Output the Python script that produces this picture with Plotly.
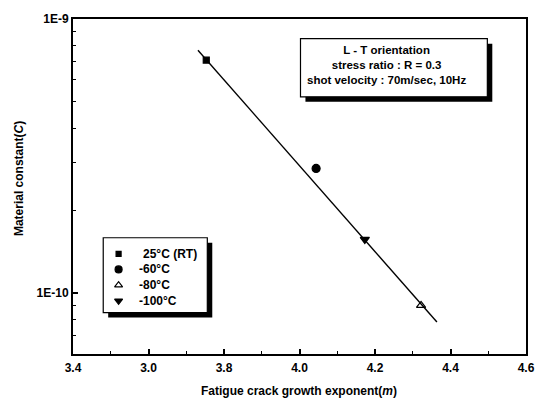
import plotly.graph_objects as go

# ---- data ----
series_names = ["25°C (RT)", "-60°C", "-80°C", "-100°C"]
m_values = [3.753, 4.044, 4.322, 4.173]              # fatigue crack growth exponent m
C_values = [7.08e-10, 2.85e-10, 9.02e-11, 1.57e-10]  # material constant C
marker_symbols = ["square", "circle", "triangle-up-open", "triangle-down"]
marker_sizes = [6, 8, 8, 8]
legend_marker_sizes = [5, 7, 7, 7]

fit_m = [3.731, 4.364]
fit_C = [7.69e-10, 7.85e-11]

x_tickvals = [3.4, 3.6, 3.8, 4.0, 4.2, 4.4, 4.6]
x_ticktext = ["3.4", "3.0", "3.8", "4.0", "4.2", "4.4", "4.6"]
x_minor = [3.5, 3.7, 3.9, 4.1, 4.3, 4.5]
y_tickvals = [1e-10, 1e-9]
y_ticktext = ["1E-10", "1E-9"]
y_minor = [k * 1e-11 for k in [6, 7, 8, 9]] + [k * 1e-10 for k in [2, 3, 4, 5, 6, 7, 8, 9]]

x_title = "Fatigue crack growth exponent(<i>m</i>)"
y_title = "Material constant(<i>C</i>)"
info_lines = ["L - T orientation", "stress ratio : R = 0.3", "shot velocity : 70m/sec, 10Hz"]

FONT = "Liberation Sans, Arial, sans-serif"
W, H = 547, 403
ML, MR, MT, MB = 73, 17, 14, 49
PW, PH = W - ML - MR, H - MT - MB


def px(x):
    return (x - ML) / PW


def py(y):
    return (H - MB - y) / PH


def bold(s):
    return "<b>" + s + "</b>"


fig = go.Figure()

fig.add_trace(go.Scatter(x=fit_m, y=fit_C, mode="lines",
                         line=dict(color="black", width=1.4),
                         showlegend=False, hoverinfo="skip"))

for name, xm, yc, sym, sz in zip(series_names, m_values, C_values, marker_symbols, marker_sizes):
    fig.add_trace(go.Scatter(x=[xm], y=[yc], mode="markers", name=name, showlegend=False,
                             marker=dict(symbol=sym, size=sz, color="black",
                                         line=dict(color="black", width=1.2))))

# ---- legend drawn in an inset axis (pixel units inside the legend box) ----
lx0, lx1, ly0, ly1 = 103.5, 208.5, 236, 312
row_first, row_step = 16.3, 15.9
marker_col, text_col = 15.5, 33.8
rows = [row_first + row_step * i for i in range(len(series_names))]
for name, sym, sz, r in zip(series_names, marker_symbols, legend_marker_sizes, rows):
    fig.add_trace(go.Scatter(x=[marker_col], y=[r], mode="markers", xaxis="x2", yaxis="y2",
                             showlegend=False, hoverinfo="skip",
                             marker=dict(symbol=sym, size=sz, color="black",
                                         line=dict(color="black", width=1.2))))

shapes = []
sh = 5
for (x0, x1, y0, y1) in [(lx0, lx1, ly0, ly1), (302.5, 491, 34, 93)]:
    shapes.append(dict(type="rect", xref="paper", yref="paper",
                       x0=px(x0 + sh), x1=px(x1 + sh), y0=py(y1 + sh), y1=py(y0 + sh),
                       fillcolor="black", line=dict(width=0), layer="below"))
    shapes.append(dict(type="rect", xref="paper", yref="paper",
                       x0=px(x0), x1=px(x1), y0=py(y1), y1=py(y0),
                       fillcolor="white", line=dict(color="black", width=1.2), layer="below"))

annotations = [
    dict(text="<br>".join(bold(s) for s in info_lines), xref="paper", yref="paper",
         x=px(389), y=py(61), xanchor="center", yanchor="middle",
         showarrow=False, align="center",
         font=dict(family=FONT, size=11.5, color="black")),
    dict(text=bold(x_title), xref="paper", yref="paper",
         x=px(301), y=py(392), xanchor="center", yanchor="middle",
         showarrow=False, font=dict(family=FONT, size=12, color="black")),
    dict(text=bold(y_title), xref="paper", yref="paper", textangle=-90,
         x=px(18), y=py(176), xanchor="center", yanchor="middle",
         showarrow=False, font=dict(family=FONT, size=12, color="black")),
]
for name, r in zip(series_names, rows):
    indent = 0 if name.startswith("-") else 4
    annotations.append(dict(text=bold(name), xref="x2", yref="y2", x=text_col, y=r,
                            xanchor="left", yanchor="middle", xshift=indent,
                            showarrow=False, font=dict(family=FONT, size=12, color="black")))

fig.update_layout(
    width=W, height=H,
    margin=dict(l=ML, r=MR, t=MT, b=MB),
    paper_bgcolor="white", plot_bgcolor="rgba(0,0,0,0)",
    font=dict(family=FONT, size=12, color="black"),
    shapes=shapes,
    annotations=annotations,
    showlegend=False,
    xaxis=dict(range=[3.4, 4.6], tickmode="array", tickvals=x_tickvals,
               ticktext=[bold(t) for t in x_ticktext],
               ticks="inside", ticklen=5, tickwidth=1.5, tickcolor="black",
               ticklabelstandoff=2,
               minor=dict(tickvals=x_minor, ticks="inside", ticklen=3, tickwidth=1.2, tickcolor="black"),
               showline=True, linecolor="black", linewidth=2, mirror=True,
               showgrid=False, zeroline=False,
               tickfont=dict(family=FONT, size=12)),
    yaxis=dict(type="log", range=[-10.2218, -9.0], tickmode="array",
               tickvals=y_tickvals, ticktext=[bold(t) for t in y_ticktext],
               ticks="inside", ticklen=5, tickwidth=1.5, tickcolor="black",
               minor=dict(tickvals=y_minor, ticks="inside", ticklen=3, tickwidth=1.2, tickcolor="black"),
               showline=True, linecolor="black", linewidth=2, mirror=True,
               showgrid=False, zeroline=False,
               tickfont=dict(family=FONT, size=12)),
    xaxis2=dict(domain=[px(lx0), px(lx1)], range=[0, lx1 - lx0], visible=False,
                anchor="y2", fixedrange=True),
    yaxis2=dict(domain=[py(ly1), py(ly0)], range=[ly1 - ly0, 0], visible=False,
                anchor="x2", fixedrange=True),
)

fig.write_html("out.html", config={"displayModeBar": False},
               post_script="document.body.style.margin='0';")
